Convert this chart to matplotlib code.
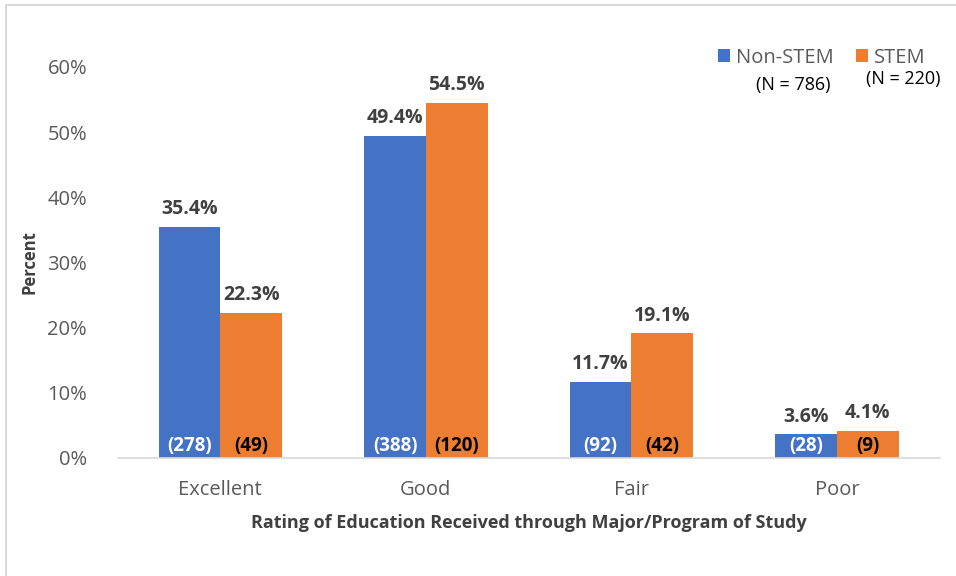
import matplotlib.pyplot as plt
from matplotlib.patches import Rectangle
import numpy as np

plt.rcParams['font.family'] = ['Open Sans', 'DejaVu Sans']

categories = ['Excellent', 'Good', 'Fair', 'Poor']
non_stem = [35.4, 49.4, 11.7, 3.6]
stem = [22.3, 54.5, 19.1, 4.1]
non_stem_n = [278, 388, 92, 28]
stem_n = [49, 120, 42, 9]

blue = '#4472C4'
orange = '#ED7D31'
grey = '#595959'

fig = plt.figure(figsize=(9.56, 5.76), dpi=100)
# chart area border (grey frame on left/top, like the Excel chart box)
fig.patches.append(Rectangle((0.006, -0.1), 1.2, 1.092, transform=fig.transFigure,
                             fill=False, edgecolor='#d9d9d9', linewidth=1.5))
ax = fig.add_axes([0.123, 0.205, 0.86, 0.679])

x = np.arange(len(categories))
w = 0.3
b1 = ax.bar(x - w / 2, non_stem, w, color=blue)
b2 = ax.bar(x + w / 2, stem, w, color=orange)

for rect, v, n in zip(b1, non_stem, non_stem_n):
    cx = rect.get_x() + rect.get_width() / 2
    ax.text(cx, v + 1.2, f'{v:.1f}%', ha='center', va='bottom', fontsize=14,
            fontweight='bold', color='#404040')
    ax.text(cx, 0.3, f'({n})', ha='center', va='bottom', fontsize=13.5,
            fontweight='bold', color='white')
for rect, v, n in zip(b2, stem, stem_n):
    cx = rect.get_x() + rect.get_width() / 2
    ax.text(cx, v + 1.2, f'{v:.1f}%', ha='center', va='bottom', fontsize=14,
            fontweight='bold', color='#404040')
    ax.text(cx, 0.3, f'({n})', ha='center', va='bottom', fontsize=13.5,
            fontweight='bold', color='black')

ax.set_xlim(-0.5, 3.5)
ax.set_ylim(0, 60)
ax.set_yticks(np.arange(0, 61, 10))
ax.set_yticklabels([f'{t}%' for t in range(0, 61, 10)])
ax.set_xticks(x)
ax.set_xticklabels(categories)
ax.tick_params(axis='both', length=0, labelsize=14.5, colors=grey)
ax.tick_params(axis='y', pad=22)
ax.tick_params(axis='x', pad=16)
for s in ['top', 'right', 'left']:
    ax.spines[s].set_visible(False)
ax.spines['bottom'].set_color('#d9d9d9')
ax.spines['bottom'].set_linewidth(1.2)

ax.set_ylabel('Percent', fontsize=12, fontweight='bold', color='#404040', labelpad=6)
ax.set_xlabel('Rating of Education Received through Major/Program of Study',
              fontsize=13, fontweight='bold', color='#404040', labelpad=10)

# legend
leg = ax.legend([b1, b2], ['Non-STEM', 'STEM'], loc='upper right', ncol=2,
                bbox_to_anchor=(1.005, 1.095), frameon=False, fontsize=14.5,
                handlelength=0.6, handleheight=0.6, handletextpad=0.3,
                columnspacing=1.1, labelcolor=grey)
fig.text(0.830, 0.853, '(N = 786)', ha='center', va='center', fontsize=13, color='black')
fig.text(0.945, 0.863, '(N = 220)', ha='center', va='center', fontsize=13, color='black')

fig.savefig('out.png', dpi=100)
